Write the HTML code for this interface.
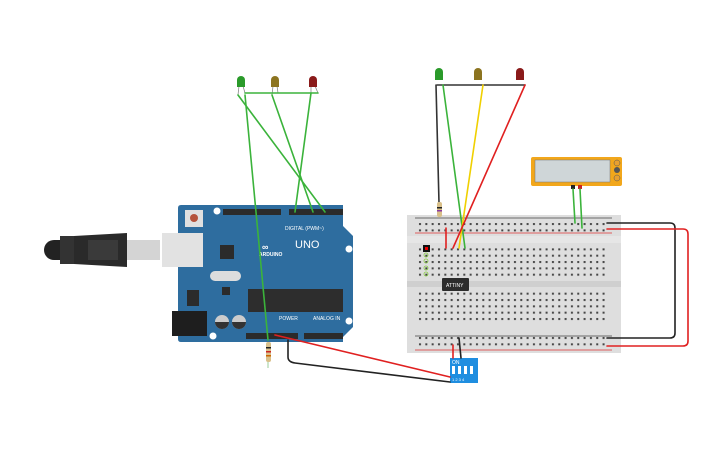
<!DOCTYPE html>
<html><head><meta charset="utf-8"><style>html,body{margin:0;padding:0;background:#fff;}svg{display:block}</style></head>
<body>
<svg width="725" height="453" viewBox="0 0 725 453" xmlns="http://www.w3.org/2000/svg" font-family="Liberation Sans, sans-serif">
<defs>
<pattern id="h" x="417.5" y="0" width="6.33" height="6.33" patternUnits="userSpaceOnUse"><rect x="1.5" y="1.5" width="2" height="2" fill="#444"/></pattern>
</defs>
<!-- USB cable -->
<rect x="44" y="240" width="30" height="20" rx="10" fill="#222"/>
<rect x="60" y="236" width="18" height="28" fill="#333"/>
<path d="M74 236 L127 233 L127 267 L74 264 Z" fill="#2a2a2a"/>
<rect x="88" y="240" width="30" height="20" fill="#3a3a3a"/>
<rect x="127" y="240" width="33" height="20" fill="#d4d4d4"/>
<!-- Arduino board -->
<path d="M181 205 L343 205 L343 226 L353 236 L353 327 L343 337 L343 342 L181 342 Q178 342 178 339 L178 208 Q178 205 181 205Z" fill="#2e6d9f"/>
<rect x="162" y="233" width="41" height="34" fill="#e2e2e2"/>
<rect x="185" y="210" width="18" height="17" fill="#e0e0e0"/><circle cx="194" cy="218" r="4" fill="#b5533c"/>
<circle cx="217" cy="211" r="3.5" fill="#fff"/><circle cx="349" cy="249" r="3.5" fill="#fff"/><circle cx="349" cy="321" r="3.5" fill="#fff"/><circle cx="213" cy="336" r="3.5" fill="#fff"/>
<rect x="223" y="209" width="58" height="6" fill="#2b2b2b"/><rect x="289" y="209" width="54" height="6" fill="#2b2b2b"/>
<text x="285" y="230" font-size="5" fill="#fff">DIGITAL (PWM~)</text>
<rect x="220" y="245" width="14" height="14" fill="#2b2b2b"/>
<rect x="210" y="271" width="31" height="10" rx="5" fill="#ddd"/>
<rect x="222" y="287" width="8" height="8" fill="#2b2b2b"/>
<rect x="187" y="290" width="12" height="16" fill="#2b2b2b"/>
<rect x="248" y="289" width="95" height="23" fill="#2d2d2d"/>
<rect x="172" y="311" width="35" height="25" fill="#1e1e1e"/>
<circle cx="222" cy="322" r="7" fill="#ccc"/><path d="M215 322 A7 7 0 0 0 229 322Z" fill="#333"/>
<circle cx="239" cy="322" r="7" fill="#ccc"/><path d="M232 322 A7 7 0 0 0 246 322Z" fill="#333"/>
<rect x="246" y="333" width="52" height="6" fill="#2b2b2b"/><rect x="304" y="333" width="39" height="6" fill="#2b2b2b"/>
<text x="279" y="320" font-size="5" fill="#fff">POWER</text><text x="313" y="320" font-size="5" fill="#fff">ANALOG IN</text>
<text x="262" y="250" font-size="9" fill="#fff" font-weight="bold">∞</text>
<text x="295" y="248" font-size="11" fill="#fff">UNO</text>
<text x="259" y="256" font-size="5" fill="#fff" font-weight="bold">ARDUINO</text>
<!-- breadboard -->
<rect x="407" y="215" width="214" height="138" fill="#dedede"/>
<rect x="407" y="236" width="214" height="7" fill="#e6e6e6"/>
<rect x="407" y="281" width="214" height="6" fill="#cfcfcf"/>
<line x1="415" y1="218" x2="612" y2="218" stroke="#444" stroke-width="0.7"/>
<line x1="415" y1="233" x2="612" y2="233" stroke="#d33" stroke-width="0.8"/>
<line x1="415" y1="336" x2="612" y2="336" stroke="#444" stroke-width="0.7"/>
<line x1="415" y1="350" x2="612" y2="350" stroke="#d33" stroke-width="0.8"/>
<rect x="417" y="220.5" width="190" height="12" fill="url(#h)"/>
<rect x="417" y="246.5" width="190" height="31" fill="url(#h)"/>
<rect x="417" y="290.5" width="190" height="31" fill="url(#h)"/>
<rect x="417" y="335.5" width="190" height="12" fill="url(#h)"/>
<rect x="423" y="245" width="7" height="7" fill="#111"/><rect x="425" y="247" width="3" height="3" fill="#e00"/>
<g fill="none" stroke="#8c4" stroke-width="0.8"><circle cx="426" cy="255" r="2"/><circle cx="426" cy="261" r="2"/><circle cx="426" cy="268" r="2"/><circle cx="426" cy="274" r="2"/></g>
<rect x="442" y="278" width="27" height="13" rx="1" fill="#2c2c2c"/><text x="446" y="287" font-size="5" fill="#fff">ATTINY</text>
<!-- display -->
<rect x="531" y="157" width="91" height="29" rx="2" fill="#f2a71b"/>
<rect x="535" y="160" width="75" height="22" fill="#cfd6d8" stroke="#777" stroke-width="0.5"/>
<circle cx="617" cy="163" r="3" fill="#e8a030" stroke="#555" stroke-width="0.5"/><circle cx="617" cy="170" r="3" fill="#555"/><circle cx="617" cy="178" r="3" fill="#e8a030" stroke="#555" stroke-width="0.5"/>
<rect x="571" y="185" width="4" height="4" fill="#222"/><rect x="578" y="185" width="4" height="4" fill="#c22"/>
<!-- DIP switch -->
<rect x="450" y="358" width="28" height="25" fill="#1f8ee0"/>
<text x="452" y="364" font-size="5" fill="#fff">ON</text>
<g fill="#fff"><rect x="452" y="366" width="3" height="8"/><rect x="458" y="366" width="3" height="8"/><rect x="464" y="366" width="3" height="8"/><rect x="470" y="366" width="3" height="8"/></g>
<text x="452" y="381" font-size="4" fill="#fff">1 2 3 4</text>
<!-- LEDs left -->
<g stroke="#888" stroke-width="0.8"><line x1="239" y1="86" x2="238" y2="95"/><line x1="243" y1="86" x2="245" y2="93"/><line x1="273" y1="86" x2="272" y2="95"/><line x1="277" y1="86" x2="278" y2="93"/><line x1="311" y1="86" x2="311" y2="93"/><line x1="315" y1="86" x2="318" y2="93"/></g>
<path d="M237 87 V80 A4 4 0 0 1 245 80 V87Z" fill="#2a9a2a"/>
<path d="M271 87 V80 A4 4 0 0 1 279 80 V87Z" fill="#8c7420"/>
<path d="M309 87 V80 A4 4 0 0 1 317 80 V87Z" fill="#8a1a1a"/>
<!-- LEDs right -->
<path d="M435 80 V72 A4 4 0 0 1 443 72 V80Z" fill="#2a9a2a"/>
<path d="M474 80 V72 A4 4 0 0 1 482 72 V80Z" fill="#8c7420"/>
<path d="M516 80 V72 A4 4 0 0 1 524 72 V80Z" fill="#8a1a1a"/>
<!-- wires -->
<g fill="none" stroke-width="1.6" stroke-linecap="round">
<line x1="245" y1="93" x2="318" y2="93" stroke="#3bb33b"/>
<line x1="238" y1="95" x2="325" y2="212" stroke="#3bb33b"/>
<line x1="245" y1="95" x2="268" y2="340" stroke="#3bb33b"/>
<line x1="272" y1="95" x2="313" y2="212" stroke="#3bb33b"/>
<line x1="311" y1="93" x2="295" y2="212" stroke="#3bb33b"/>
<path d="M275 335 L450 377" stroke="#e02020"/>
<path d="M288 340 V357 Q288 362 295 363 L450 382" stroke="#222"/>
<path d="M437 85 H525" stroke="#333"/>
<path d="M436 85 L439 203" stroke="#333"/>
<line x1="443" y1="85" x2="465" y2="248" stroke="#3bb33b"/>
<line x1="483" y1="85" x2="459" y2="248" stroke="#f0d000"/>
<line x1="525" y1="85" x2="453" y2="248" stroke="#e02020"/>
<line x1="446" y1="228" x2="446" y2="248" stroke="#e02020"/>
<line x1="573" y1="189" x2="575" y2="223" stroke="#3bb33b"/>
<line x1="580" y1="189" x2="582" y2="228" stroke="#3bb33b"/>
<path d="M607 223 H670 Q675 223 675 228 V333 Q675 338 670 338 H607" stroke="#222"/>
<path d="M607 229 H683 Q688 229 688 234 V341 Q688 346 683 346 H607" stroke="#e02020"/>
<line x1="453" y1="345" x2="453" y2="358" stroke="#e02020"/>
<line x1="459" y1="338" x2="461" y2="358" stroke="#222"/>
</g>
<!-- resistors -->
<rect x="437" y="202" width="5" height="15" rx="2" fill="#d9c08a"/><rect x="437" y="207" width="5" height="1.5" fill="#222"/><rect x="437" y="210" width="5" height="1.5" fill="#8a3aa0"/>
<line x1="268" y1="362" x2="268" y2="368" stroke="#9c9" stroke-width="1"/>
<rect x="266" y="342" width="5" height="20" rx="2" fill="#d9c08a"/><rect x="266" y="347" width="5" height="1.5" fill="#222"/><rect x="266" y="351" width="5" height="1.5" fill="#c22"/><rect x="266" y="355" width="5" height="1.5" fill="#c60"/>
</svg>
</body></html>
